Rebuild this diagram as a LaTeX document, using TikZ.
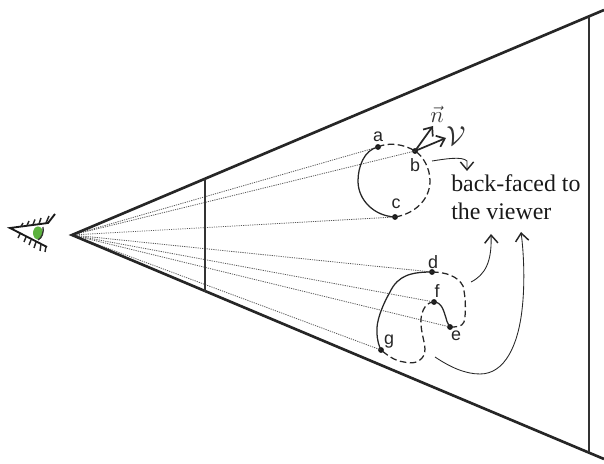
\documentclass[tikz,border=0pt]{standalone}
\usepackage{fontspec}
\setmainfont{Liberation Serif}
\newfontfamily\lblfont{Liberation Sans}
\usetikzlibrary{arrows.meta}
\definecolor{iris}{RGB}{92,178,62}
\tikzset{
  x=0.0265cm,y=-0.0265cm,
  frame/.style={line width=2pt,black!85},
  plane/.style={line width=1.2pt,black!80},
  sight/.style={line width=0.6pt,black!65,dash pattern=on 0.9pt off 0.8pt},
  surf/.style={line width=0.95pt,black!85},
  hidden/.style={line width=0.95pt,black!85,dash pattern=on 5pt off 2.6pt},
  pt/.style={circle,fill=black!90,inner sep=0pt,minimum size=4.4pt},
  lbl/.style={font=\lblfont\fontsize{13.5}{13.5}\selectfont,inner sep=0pt,black!85},
  callout/.style={line width=0.65pt,black!85,-{Straight Barb[length=6pt,width=10pt,line width=1.1pt]}},
  normalarrow/.style={line width=1.3pt,black!85,-{Straight Barb[length=5.5pt,width=9pt,line width=1.3pt]}},
  lash/.style={line width=1.1pt,black!85}
}
\begin{document}
\begin{tikzpicture}
\useasboundingbox (0,0) rectangle (604,464);
% frustum
\coordinate (apex) at (72,235);
\coordinate (edgeT) at (604,10);
\coordinate (edgeB) at (604,459);
\coordinate (farT) at (589,17);
\coordinate (farB) at (589,452);
\coordinate (nearT) at (205,179);
\coordinate (nearB) at (205,292);
% points
\node[pt] (a) at (378,147) {};
\node[pt] (b) at (415,151) {};
\node[pt] (c) at (395,217) {};
\node[pt] (d) at (432,272) {};
\node[pt] (f) at (434,302) {};
\node[pt] (e) at (450,327) {};
\node[pt] (g) at (381,350) {};
% sight lines
\foreach \p in {a,b,c,d,f,e,g} \draw[sight] (apex) -- (\p.center);
% frame
\draw[frame] (edgeT) -- (apex) -- (edgeB);
\draw[plane] (farT) -- (farB);
\draw[plane] (nearT) -- (nearB);
% circle
\draw[surf] (a.center) .. controls (364,150) and (358,167) .. (358,181)
  .. controls (358,200) and (374,216) .. (c.center);
\draw[hidden] (a.center) .. controls (388,142) and (404,144) .. (b.center)
  .. controls (423,156) and (430,168) .. (430,181)
  .. controls (430,200) and (414,214) .. (c.center);
% blob
\draw[surf] (d.center) .. controls (412,272) and (398,275) .. (390,292)
  .. controls (382,306) and (376,322) .. (377,332) .. controls (377,340) and (379,346) .. (g.center);
\draw[hidden] (d.center) .. controls (445,272) and (458,276) .. (463,286)
  .. controls (466,298) and (466,315) .. (464,322) .. controls (462,327) and (456,327) .. (e.center);
\draw[surf] (f.center) .. controls (442,302) and (444,312) .. (446,318) .. controls (447,323) and (449,325) .. (e.center);
\draw[hidden] (f.center) .. controls (424,302) and (420,315) .. (421,325)
  .. controls (422,338) and (427,347) .. (424,355) .. controls (420,363) and (412,364) .. (404,362)
  .. controls (394,361) and (386,354) .. (g.center);
% normals
\coordinate (ntip) at (433,126);
\coordinate (vtip) at (446,138);
\draw[normalarrow] (b.center) -- (ntip);
\draw[normalarrow] (b.center) -- (vtip);
\node[inner sep=0pt,font=\LARGE,black!80] (nlab) at (437,114) {$\vec{n}$};
\node[inner sep=0pt,font=\huge,black!80] (vlab) at (456,136) {$\mathcal{V}$};
% labels
\node[lbl] (la) at (378,137) {a};
\node[lbl] (lb) at (415,165) {b};
\node[lbl] (lc) at (396,204) {c};
\node[lbl] (ld) at (433,262) {d};
\node[lbl] (lf) at (437,291) {f};
\node[lbl] (le) at (456,336) {e};
\node[lbl] (lg) at (389,342) {g};
% text
\node[inner sep=0pt,align=left,anchor=base west,font=\fontsize{18}{20.8}\selectfont,black!90] (txt) at (451,219.5) {back-faced to\\the viewer};
% callouts
\coordinate (c1a) at (432,161);
\coordinate (c1b) at (467,171);
\draw[callout] (c1a) .. controls (445,159) and (462,156) .. (467,161) -- (c1b);
\coordinate (c2a) at (471,282);
\coordinate (c2b) at (491,234);
\draw[callout] (c2a) .. controls (485,275) and (492,262) .. (c2b);
\coordinate (c3a) at (435,357);
\coordinate (c3b) at (521,232);
\draw[callout] (c3a) .. controls (450,367) and (465,374) .. (480,374)
  .. controls (505,374) and (518,345) .. (522,310)
  .. controls (525,285) and (524,255) .. (c3b);
% eye
\fill[iris] (38,233) ellipse (5 and 6.5);
\draw[line width=1pt,black!80] (43,227) .. controls (44,232) and (42,238) .. (38,240);
\coordinate (eyeL) at (10,228);
\coordinate (eyeM) at (48,223);
\coordinate (eyeE) at (55,214);
\coordinate (eyeB) at (47,247);
\draw[line width=1.4pt,black!90] (eyeE) -- (eyeM) -- (eyeL) -- (eyeB);
\draw[lash] (21,226.5) -- (23,223);
\draw[lash] (27,225.5) -- (29,221);
\draw[lash] (33,224.5) -- (35,219.5);
\draw[lash] (39,224) -- (41,218);
\draw[lash] (46,223) -- (49,216);
\draw[lash] (20,234) -- (18,238);
\draw[lash] (26,237) -- (24,242);
\draw[lash] (31,240) -- (29,245);
\draw[lash] (36,242) -- (34,248);
\draw[lash] (41,244) -- (40,251);
\draw[lash] (46,246.5) -- (45,252);
\end{tikzpicture}
\end{document}
